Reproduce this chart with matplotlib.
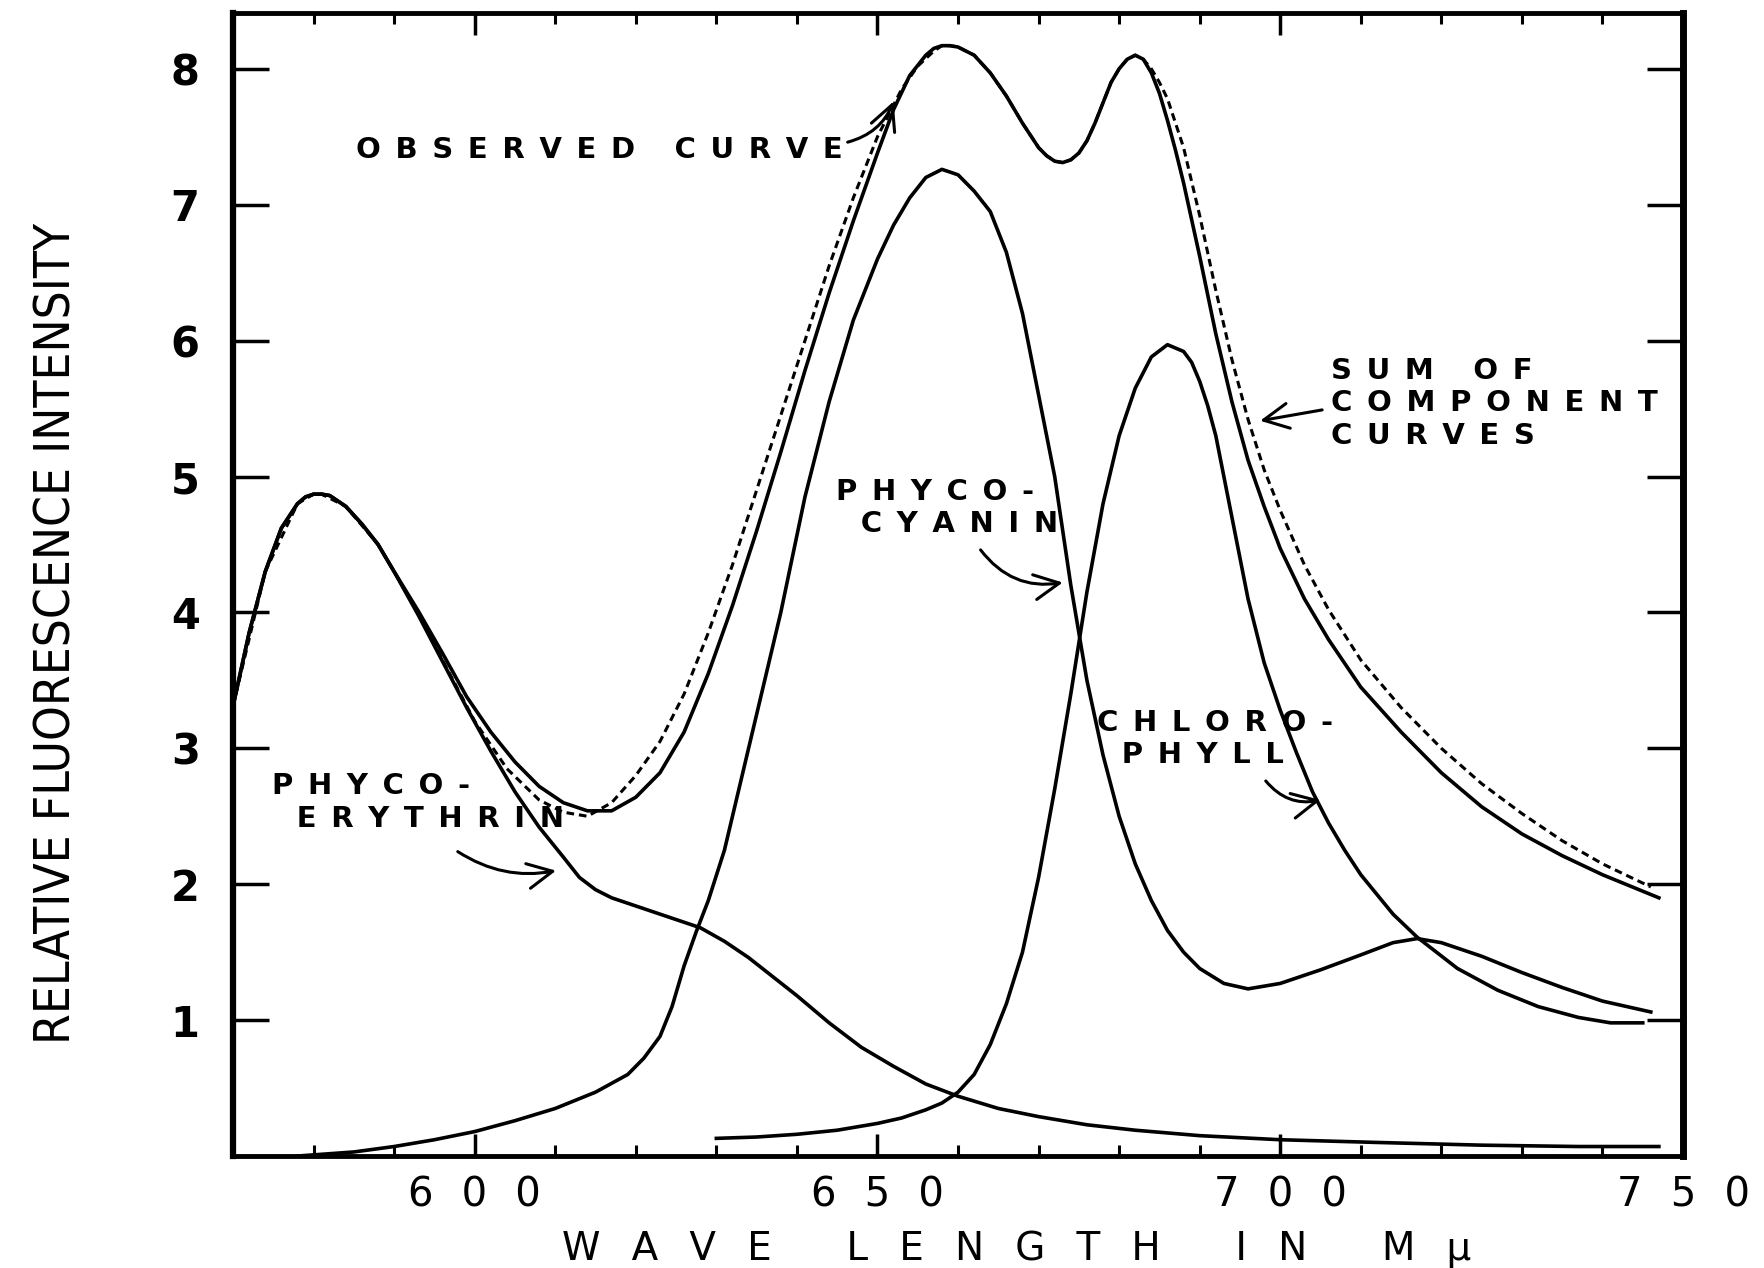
import matplotlib.pyplot as plt
from matplotlib.ticker import MultipleLocator

# wave length (m-mu) and relative fluorescence intensity
obs_x = [570, 572, 574, 576, 578, 579, 580, 581, 582, 584, 586, 588, 590, 593,
         596, 599, 602, 605, 608, 611, 614, 617, 620, 623, 626, 629, 632, 635,
         638, 641, 644, 647, 650, 652, 654, 656, 657, 658, 659, 660, 662, 664,
         666, 668, 670, 671, 672, 673, 674, 675, 676, 677, 678, 679, 680, 681,
         682, 683, 684, 685, 686, 687, 688, 690, 692, 694, 696, 698, 700, 703,
         706, 710, 715, 720, 725, 730, 735, 740, 747]
obs_y = [3.31, 3.85, 4.30, 4.62, 4.80, 4.85, 4.87, 4.87, 4.86, 4.78, 4.65, 4.50,
         4.30, 4.01, 3.70, 3.38, 3.12, 2.90, 2.72, 2.60, 2.54, 2.54, 2.64, 2.82,
         3.12, 3.55, 4.05, 4.60, 5.18, 5.78, 6.35, 6.88, 7.38, 7.70, 7.95, 8.10,
         8.15, 8.17, 8.17, 8.16, 8.10, 7.97, 7.80, 7.60, 7.42, 7.36, 7.32, 7.31,
         7.33, 7.38, 7.47, 7.60, 7.75, 7.90, 8.00, 8.07, 8.10, 8.07, 7.97, 7.82,
         7.62, 7.40, 7.16, 6.62, 6.05, 5.55, 5.12, 4.78, 4.47, 4.10, 3.80, 3.45,
         3.12, 2.82, 2.57, 2.37, 2.21, 2.07, 1.90]

sum_x = [570, 574, 578, 580, 581, 584, 588, 592, 596, 600, 604, 608, 611, 614,
         617, 620, 623, 626, 629, 632, 635, 638, 641, 644, 647, 650, 653, 655,
         657, 658, 659, 660, 662, 664, 666, 668, 670, 671, 672, 673, 674, 675,
         676, 677, 678, 679, 680, 681, 682, 683, 684, 685, 686, 688, 690, 692,
         694, 696, 698, 700, 703, 706, 710, 715, 720, 725, 730, 735, 740, 746]
sum_y = [3.31, 4.30, 4.80, 4.87, 4.87, 4.78, 4.50, 4.10, 3.65, 3.20, 2.85, 2.62,
         2.53, 2.50, 2.60, 2.80, 3.05, 3.40, 3.85, 4.35, 4.90, 5.45, 6.00, 6.55,
         7.05, 7.50, 7.85, 8.02, 8.13, 8.17, 8.17, 8.16, 8.10, 7.97, 7.80, 7.60,
         7.42, 7.36, 7.32, 7.31, 7.33, 7.38, 7.47, 7.60, 7.75, 7.90, 8.00, 8.07,
         8.10, 8.07, 8.00, 7.90, 7.78, 7.42, 6.92, 6.37, 5.86, 5.42, 5.05, 4.75,
         4.35, 4.02, 3.65, 3.30, 3.00, 2.74, 2.52, 2.32, 2.15, 1.98]

pe_x = [570, 572, 574, 576, 578, 579, 580, 581, 582, 584, 586, 588, 590, 593,
        596, 599, 602, 605, 608, 611, 613, 615, 617, 620, 625, 628, 631, 634,
        637, 640, 644, 648, 652, 656, 660, 665, 670, 676, 682, 690, 700, 712,
        725, 737, 747]
pe_y = [3.31, 3.85, 4.30, 4.62, 4.80, 4.85, 4.87, 4.87, 4.86, 4.78, 4.65, 4.50,
        4.30, 3.98, 3.64, 3.30, 2.98, 2.68, 2.42, 2.20, 2.05, 1.96, 1.90, 1.84,
        1.74, 1.68, 1.58, 1.46, 1.32, 1.18, 0.98, 0.80, 0.66, 0.53, 0.44, 0.35,
        0.29, 0.23, 0.19, 0.15, 0.12, 0.10, 0.08, 0.07, 0.07]

pc_x = [578, 585, 590, 595, 600, 605, 610, 615, 619, 621, 623, 624.5, 626,
        627.5, 629, 631, 633, 635, 638, 641, 644, 647, 650, 652, 654, 656, 658,
        660, 662, 664, 666, 668, 670, 672, 674, 676, 678, 680, 682, 684, 686,
        688, 690, 693, 696, 700, 705, 710, 714, 717, 720, 725, 730, 735, 740,
        746]
pc_y = [0.00, 0.03, 0.07, 0.12, 0.18, 0.26, 0.35, 0.47, 0.60, 0.72, 0.88, 1.10,
        1.40, 1.65, 1.88, 2.25, 2.75, 3.25, 4.00, 4.85, 5.55, 6.15, 6.60, 6.85,
        7.05, 7.20, 7.26, 7.22, 7.10, 6.95, 6.65, 6.20, 5.60, 5.00, 4.20, 3.50,
        2.95, 2.50, 2.15, 1.88, 1.66, 1.50, 1.38, 1.27, 1.23, 1.27, 1.37, 1.48,
        1.57, 1.60, 1.57, 1.47, 1.35, 1.24, 1.14, 1.06]

chl_x = [630, 635, 640, 645, 650, 653, 656, 658, 660, 662, 664, 666, 668, 670,
         672, 674, 676, 678, 680, 682, 684, 686, 688, 689, 690, 691, 692, 694,
         696, 698, 700, 702, 704, 706, 708, 710, 714, 717, 722, 727, 732, 737,
         741, 745]
chl_y = [0.13, 0.14, 0.16, 0.19, 0.24, 0.28, 0.34, 0.39, 0.47, 0.60, 0.82, 1.12,
         1.50, 2.05, 2.70, 3.40, 4.15, 4.80, 5.30, 5.65, 5.88, 5.97, 5.92, 5.84,
         5.70, 5.52, 5.30, 4.70, 4.10, 3.63, 3.28, 2.97, 2.68, 2.45, 2.25, 2.07,
         1.78, 1.61, 1.38, 1.22, 1.10, 1.02, 0.98, 0.98]

x_ticks = [600, 650, 700, 750]
y_ticks = [1, 2, 3, 4, 5, 6, 7, 8]


def spaced(s, gap='\u2002'):
    # wide letter spacing like the old lettering guide
    return '\n'.join(gap.join(line) for line in s.split('\n'))


fig = plt.figure(figsize=(17.64, 12.68), dpi=100)
ax = fig.add_axes([0.1321, 0.0883, 0.822, 0.9014])

lw = 2.6
ax.plot(obs_x, obs_y, color='black', lw=lw)
ax.plot(sum_x, sum_y, color='black', lw=2.2, ls=(0, (2.5, 1.6)))
ax.plot(pe_x, pe_y, color='black', lw=lw)
ax.plot(pc_x, pc_y, color='black', lw=lw)
ax.plot(chl_x, chl_y, color='black', lw=lw)

ax.set_xlim(570, 750)
ax.set_ylim(0, 8.41)

ax.set_xticks(x_ticks)
ax.set_xticklabels([spaced(str(t), '\u2002\u2009') for t in x_ticks])
ax.xaxis.set_minor_locator(MultipleLocator(10))
ax.set_yticks(y_ticks)
ax.set_yticklabels([str(t) for t in y_ticks], fontweight='bold')

ax.tick_params(axis='x', which='major', direction='in', length=16, width=2.5,
               top=True, labelsize=29, pad=14)
ax.tick_params(axis='x', which='minor', direction='in', length=8, width=2.2,
               top=True)
ax.tick_params(axis='y', which='major', direction='in', length=26, width=2.5,
               right=True, labelsize=30, pad=24)

for s in ax.spines.values():
    s.set_linewidth(3.5)
ax.spines['left'].set_linewidth(4.5)
ax.spines['right'].set_linewidth(5)

ax.set_xlabel(spaced('WAVE LENGTH IN M\u03bc', '\u2002\u2009\u200a'), fontsize=28)
ax.xaxis.set_label_coords(0.5407, -0.0814)
ax.xaxis.label.set_va('center')
ax.set_ylabel('RELATIVE FLUORESCENCE INTENSITY', fontsize=35.5,
              family='DejaVu Sans', fontstretch='condensed')
ax.yaxis.set_label_coords(-0.122, 0.4576)
ax.yaxis.label.set_va('center')

tkw = dict(fontsize=21, fontweight='bold', ha='left', va='center')
ax.text(585.3, 7.40, spaced('OBSERVED CURVE'), **tkw)
ax.text(706.3, 5.54, spaced('SUM OF\nCOMPONENT\nCURVES'), **tkw)
ax.text(644.9, 4.77, spaced('PHYCO-\n CYANIN'), **tkw)
ax.text(677.2, 3.07, spaced('CHLORO-\n PHYLL'), **tkw)
ax.text(574.8, 2.60, spaced('PHYCO-\n ERYTHRIN'), **tkw)

akw = dict(arrowstyle='->,head_length=0.6,head_width=0.3', lw=2.2,
           color='black', mutation_scale=30, shrinkA=0, shrinkB=0)
ax.annotate('', xy=(652.0, 7.76), xytext=(646.3, 7.46),
            arrowprops=dict(connectionstyle='arc3,rad=0.25', **akw))
ax.annotate('', xy=(697.5, 5.41), xytext=(705.2, 5.49),
            arrowprops=dict(connectionstyle='arc3,rad=0', **akw))
ax.annotate('', xy=(673.0, 4.22), xytext=(662.8, 4.46),
            arrowprops=dict(connectionstyle='arc3,rad=0.3', **akw))
ax.annotate('', xy=(705.0, 2.62), xytext=(698.2, 2.76),
            arrowprops=dict(connectionstyle='arc3,rad=0.3', **akw))
ax.annotate('', xy=(610.1, 2.10), xytext=(597.9, 2.24),
            arrowprops=dict(connectionstyle='arc3,rad=0.2', **akw))

fig.savefig('out.png', dpi=100)
